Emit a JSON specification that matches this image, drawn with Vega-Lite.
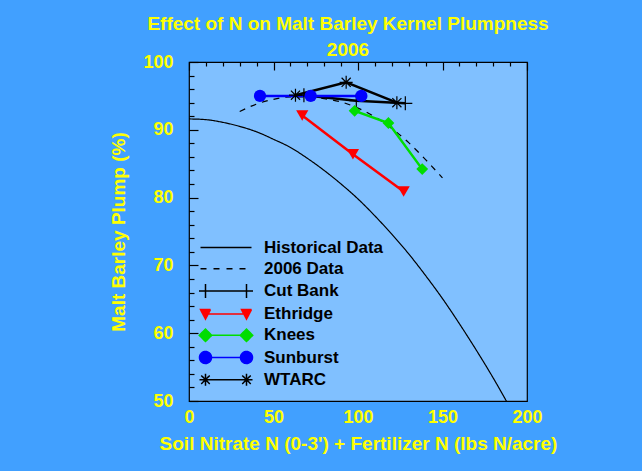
{
  "$schema": "https://vega.github.io/schema/vega-lite/v6.json",
  "autosize": "none",
  "width": 338,
  "height": 339,
  "padding": {"left": 189, "top": 62, "right": 115, "bottom": 70},
  "background": "#41A0FF",
  "title": {
    "text": ["Effect of N on Malt Barley Kernel Plumpness", "2006"],
    "color": "#FFFF00",
    "font": "Liberation Sans",
    "fontSize": 19,
    "fontWeight": "bold",
    "lineHeight": 25.5,
    "anchor": "middle",
    "dx": -10,
    "offset": -6.5
  },
  "datasets": {
    "curves": [
      {"series": "Historical Data", "n": 0, "plump": 91.6},
      {"series": "Historical Data", "n": 10, "plump": 91.5},
      {"series": "Historical Data", "n": 20, "plump": 91.1},
      {"series": "Historical Data", "n": 30, "plump": 90.5},
      {"series": "Historical Data", "n": 40, "plump": 89.7},
      {"series": "Historical Data", "n": 50, "plump": 88.6},
      {"series": "Historical Data", "n": 60, "plump": 87.4},
      {"series": "Historical Data", "n": 70, "plump": 85.8},
      {"series": "Historical Data", "n": 80, "plump": 84.0},
      {"series": "Historical Data", "n": 90, "plump": 82.0},
      {"series": "Historical Data", "n": 100, "plump": 79.8},
      {"series": "Historical Data", "n": 110, "plump": 77.3},
      {"series": "Historical Data", "n": 120, "plump": 74.6},
      {"series": "Historical Data", "n": 130, "plump": 71.7},
      {"series": "Historical Data", "n": 140, "plump": 68.5},
      {"series": "Historical Data", "n": 150, "plump": 65.1},
      {"series": "Historical Data", "n": 160, "plump": 61.4},
      {"series": "Historical Data", "n": 170, "plump": 57.5},
      {"series": "Historical Data", "n": 180, "plump": 53.4},
      {"series": "Historical Data", "n": 188, "plump": 49.9},
      {"series": "2006 Data", "n": 30, "plump": 92.7},
      {"series": "2006 Data", "n": 40, "plump": 93.8},
      {"series": "2006 Data", "n": 50, "plump": 94.5},
      {"series": "2006 Data", "n": 60, "plump": 94.85},
      {"series": "2006 Data", "n": 70, "plump": 94.85},
      {"series": "2006 Data", "n": 80, "plump": 94.6},
      {"series": "2006 Data", "n": 90, "plump": 94.1},
      {"series": "2006 Data", "n": 100, "plump": 93.2},
      {"series": "2006 Data", "n": 110, "plump": 91.9},
      {"series": "2006 Data", "n": 120, "plump": 90.2},
      {"series": "2006 Data", "n": 130, "plump": 88.1},
      {"series": "2006 Data", "n": 140, "plump": 85.6},
      {"series": "2006 Data", "n": 150, "plump": 82.9}
    ],
    "sites": [
      {"series": "Cut Bank", "n": 68, "plump": 95.1},
      {"series": "Cut Bank", "n": 99, "plump": 94.3},
      {"series": "Cut Bank", "n": 128, "plump": 93.9},
      {"series": "Ethridge", "n": 67, "plump": 92.1},
      {"series": "Ethridge", "n": 97, "plump": 86.4},
      {"series": "Ethridge", "n": 127, "plump": 80.9},
      {"series": "Knees", "n": 98, "plump": 92.8},
      {"series": "Knees", "n": 118, "plump": 91.0},
      {"series": "Knees", "n": 138, "plump": 84.2},
      {"series": "Sunburst", "n": 42, "plump": 95.0},
      {"series": "Sunburst", "n": 72, "plump": 95.0},
      {"series": "Sunburst", "n": 102, "plump": 95.0},
      {"series": "WTARC", "n": 63, "plump": 95.1},
      {"series": "WTARC", "n": 93, "plump": 97.0},
      {"series": "WTARC", "n": 123, "plump": 94.0}
    ]
  },
  "config": {
    "view": {"fill": "#80C0FF", "stroke": "#000000", "strokeWidth": 1.2},
    "axis": {
      "labelFont": "Liberation Sans",
      "labelFontWeight": "bold",
      "labelColor": "#FFFF00",
      "labelFontSize": 18,
      "titleFont": "Liberation Sans",
      "titleFontWeight": "bold",
      "titleColor": "#FFFF00",
      "titleFontSize": 19,
      "domain": false,
      "ticks": false,
      "grid": true,
      "gridColor": "#000000",
      "gridWidth": 1.2,
      "gridOpacity": 1,
      "labelFlush": false,
      "labelOverlap": false
    }
  },
  "layer": [
    {
      "data": {"name": "curves"},
      "mark": {"type": "line", "color": "#000000", "strokeWidth": 1.2, "interpolate": "monotone", "clip": true},
      "encoding": {
        "x": {"field": "n", "type": "quantitative", "scale": {"domain": [0, 200], "nice": false},
          "axis": {"orient": "bottom",
            "values": [0, 10, 20, 30, 40, 50, 60, 70, 80, 90, 100, 110, 120, 130, 140, 150, 160, 170, 180, 190, 200],
            "tickCount": 25,
            "labelExpr": "datum.value % 50 === 0 ? datum.label : ''",
            "gridDash": {"condition": {"test": "datum.value % 50 === 0", "value": [8, 1000]}, "value": [4, 1000]},
            "labelPadding": 7,
            "title": "Soil Nitrate N (0-3') + Fertilizer N (lbs N/acre)", "titlePadding": 8}},
        "y": {"field": "plump", "type": "quantitative", "scale": {"domain": [50, 100], "nice": false, "zero": false},
          "axis": {"orient": "left",
            "values": [50, 52, 54, 56, 58, 60, 62, 64, 66, 68, 70, 72, 74, 76, 78, 80, 82, 84, 86, 88, 90, 92, 94, 96, 98, 100],
            "tickCount": 30,
            "labelExpr": "datum.value % 10 === 0 ? datum.label : ''",
            "gridDash": {"condition": {"test": "datum.value % 10 === 0", "value": [9, 1000]}, "value": [5, 1000]},
            "labelPadding": 16,
            "title": "Malt Barley Plump (%)", "titlePadding": 14}},
        "detail": {"field": "series"},
        "strokeDash": {"field": "series", "type": "nominal",
          "scale": {"domain": ["Historical Data", "2006 Data"], "range": [[1, 0], [6, 6]]}, "legend": null}
      }
    },
    {
      "data": {"name": "sites"},
      "mark": {"type": "line", "strokeWidth": 2.5},
      "encoding": {
        "x": {"field": "n", "type": "quantitative", "scale": {"domain": [0, 200], "nice": false}},
        "y": {"field": "plump", "type": "quantitative", "scale": {"domain": [50, 100], "nice": false, "zero": false}},
        "color": {"field": "series", "type": "nominal",
          "scale": {"domain": ["Cut Bank", "Ethridge", "Knees", "Sunburst", "WTARC"],
            "range": ["#000000", "#FF0000", "#00DD00", "#0000FF", "#000000"]}, "legend": null}
      }
    },
    {
      "data": {"name": "sites"},
      "transform": [{"filter": "datum.series === 'Cut Bank'"}],
      "mark": {"type": "point", "shape": "M-1,0L1,0M0,-1L0,1", "size": 196, "filled": false, "stroke": "#000000", "strokeWidth": 1.2, "opacity": 1},
      "encoding": {
        "x": {"field": "n", "type": "quantitative", "scale": {"domain": [0, 200], "nice": false}},
        "y": {"field": "plump", "type": "quantitative", "scale": {"domain": [50, 100], "nice": false, "zero": false}}
      }
    },
    {
      "data": {"name": "sites"},
      "transform": [{"filter": "datum.series === 'Ethridge'"}],
      "mark": {"type": "point", "shape": "triangle-down", "size": 150, "filled": true, "color": "#FF0000", "opacity": 1},
      "encoding": {
        "x": {"field": "n", "type": "quantitative", "scale": {"domain": [0, 200], "nice": false}},
        "y": {"field": "plump", "type": "quantitative", "scale": {"domain": [50, 100], "nice": false, "zero": false}}
      }
    },
    {
      "data": {"name": "sites"},
      "transform": [{"filter": "datum.series === 'Knees'"}],
      "mark": {"type": "point", "shape": "diamond", "size": 140, "filled": true, "color": "#00DD00", "opacity": 1},
      "encoding": {
        "x": {"field": "n", "type": "quantitative", "scale": {"domain": [0, 200], "nice": false}},
        "y": {"field": "plump", "type": "quantitative", "scale": {"domain": [50, 100], "nice": false, "zero": false}}
      }
    },
    {
      "data": {"name": "sites"},
      "transform": [{"filter": "datum.series === 'Sunburst'"}],
      "mark": {"type": "point", "shape": "circle", "size": 150, "filled": true, "color": "#0000FF", "opacity": 1},
      "encoding": {
        "x": {"field": "n", "type": "quantitative", "scale": {"domain": [0, 200], "nice": false}},
        "y": {"field": "plump", "type": "quantitative", "scale": {"domain": [50, 100], "nice": false, "zero": false}}
      }
    },
    {
      "data": {"name": "sites"},
      "transform": [{"filter": "datum.series === 'WTARC'"}],
      "mark": {"type": "point", "shape": "M-1,0L1,0M0,-1L0,1M-0.7,-0.7L0.7,0.7M-0.7,0.7L0.7,-0.7", "size": 169, "filled": false, "stroke": "#000000", "strokeWidth": 1.2, "opacity": 1},
      "encoding": {
        "x": {"field": "n", "type": "quantitative", "scale": {"domain": [0, 200], "nice": false}},
        "y": {"field": "plump", "type": "quantitative", "scale": {"domain": [50, 100], "nice": false, "zero": false}}
      }
    },
    {
      "mark": {"type": "rule", "color": "#000000", "strokeWidth": 1.2},
      "encoding": {
        "y": {"datum": 75, "type": "quantitative", "scale": {"domain": [50, 100], "nice": false, "zero": false}}
      }
    },
    {
      "data": {"name": "sites"},
      "transform": [{"filter": "false"}],
      "mark": {
        "type": "point",
        "size": 100,
        "opacity": 1,
        "filled": false,
        "stroke": {"expr": "datum.value === 'Ethridge' ? '#FF0000' : datum.value === 'Knees' ? '#00DD00' : datum.value === 'Sunburst' ? '#0000FF' : '#000000'"},
        "fill": {"expr": "datum.value === 'Ethridge' ? '#FF0000' : datum.value === 'Knees' ? '#00DD00' : datum.value === 'Sunburst' ? '#0000FF' : 'transparent'"},
        "strokeWidth": {"expr": "datum.value === 'Historical Data' || datum.value === '2006 Data' ? 1.2 : 2"}
      },
      "encoding": {
        "x": {"field": "n", "type": "quantitative", "scale": {"domain": [0, 200], "nice": false}},
        "y": {"field": "plump", "type": "quantitative", "scale": {"domain": [50, 100], "nice": false, "zero": false}},
        "shape": {"field": "series", "type": "nominal",
          "scale": {
            "domain": ["Historical Data", "2006 Data", "Cut Bank", "Ethridge", "Knees", "Sunburst", "WTARC"],
            "range": [
              "M-5.1,0L5.1,0",
              "M-5.1,0L5.1,0",
              "M-4.1,0L4.1,0M-5.4,0L-2.8,0M-4.1,-1.4L-4.1,1.4M2.8,0L5.4,0M4.1,-1.4L4.1,1.4",
              "M-4.1,0L4.1,0M-5.1,-0.9L-3.1,-0.9L-4.1,1.0ZM3.1,-0.9L5.1,-0.9L4.1,1.0Z",
              "M-4.1,0L4.1,0M-4.1,-1.25L-2.85,0L-4.1,1.25L-5.35,0ZM4.1,-1.25L5.35,0L4.1,1.25L2.85,0Z",
              "M-4.1,0L4.1,0M-5.3,0A1.2,1.2,0,1,0,-2.9,0A1.2,1.2,0,1,0,-5.3,0ZM2.9,0A1.2,1.2,0,1,0,5.3,0A1.2,1.2,0,1,0,2.9,0Z",
              "M-4.1,0L4.1,0M-5.3,0L-2.9,0M-4.1,-1.2L-4.1,1.2M-4.95,-0.85L-3.25,0.85M-4.95,0.85L-3.25,-0.85M2.9,0L5.3,0M4.1,-1.2L4.1,1.2M3.25,-0.85L4.95,0.85M3.25,0.85L4.95,-0.85"
            ]
          },
          "legend": {
            "orient": "none",
            "legendX": 28.5,
            "legendY": 177,
            "title": null,
            "padding": 0,
            "symbolSize": 100,
            "symbolDash": {"expr": "datum.value === '2006 Data' ? [6, 7] : [1, 0]"},
            "labelFont": "Liberation Sans",
            "labelFontWeight": "bold",
            "labelFontSize": 17,
            "labelColor": "#000000",
            "labelOffset": 29.5,
            "labelLimit": 0,
            "rowPadding": 3.2
          }
        }
      }
    }
  ]
}
